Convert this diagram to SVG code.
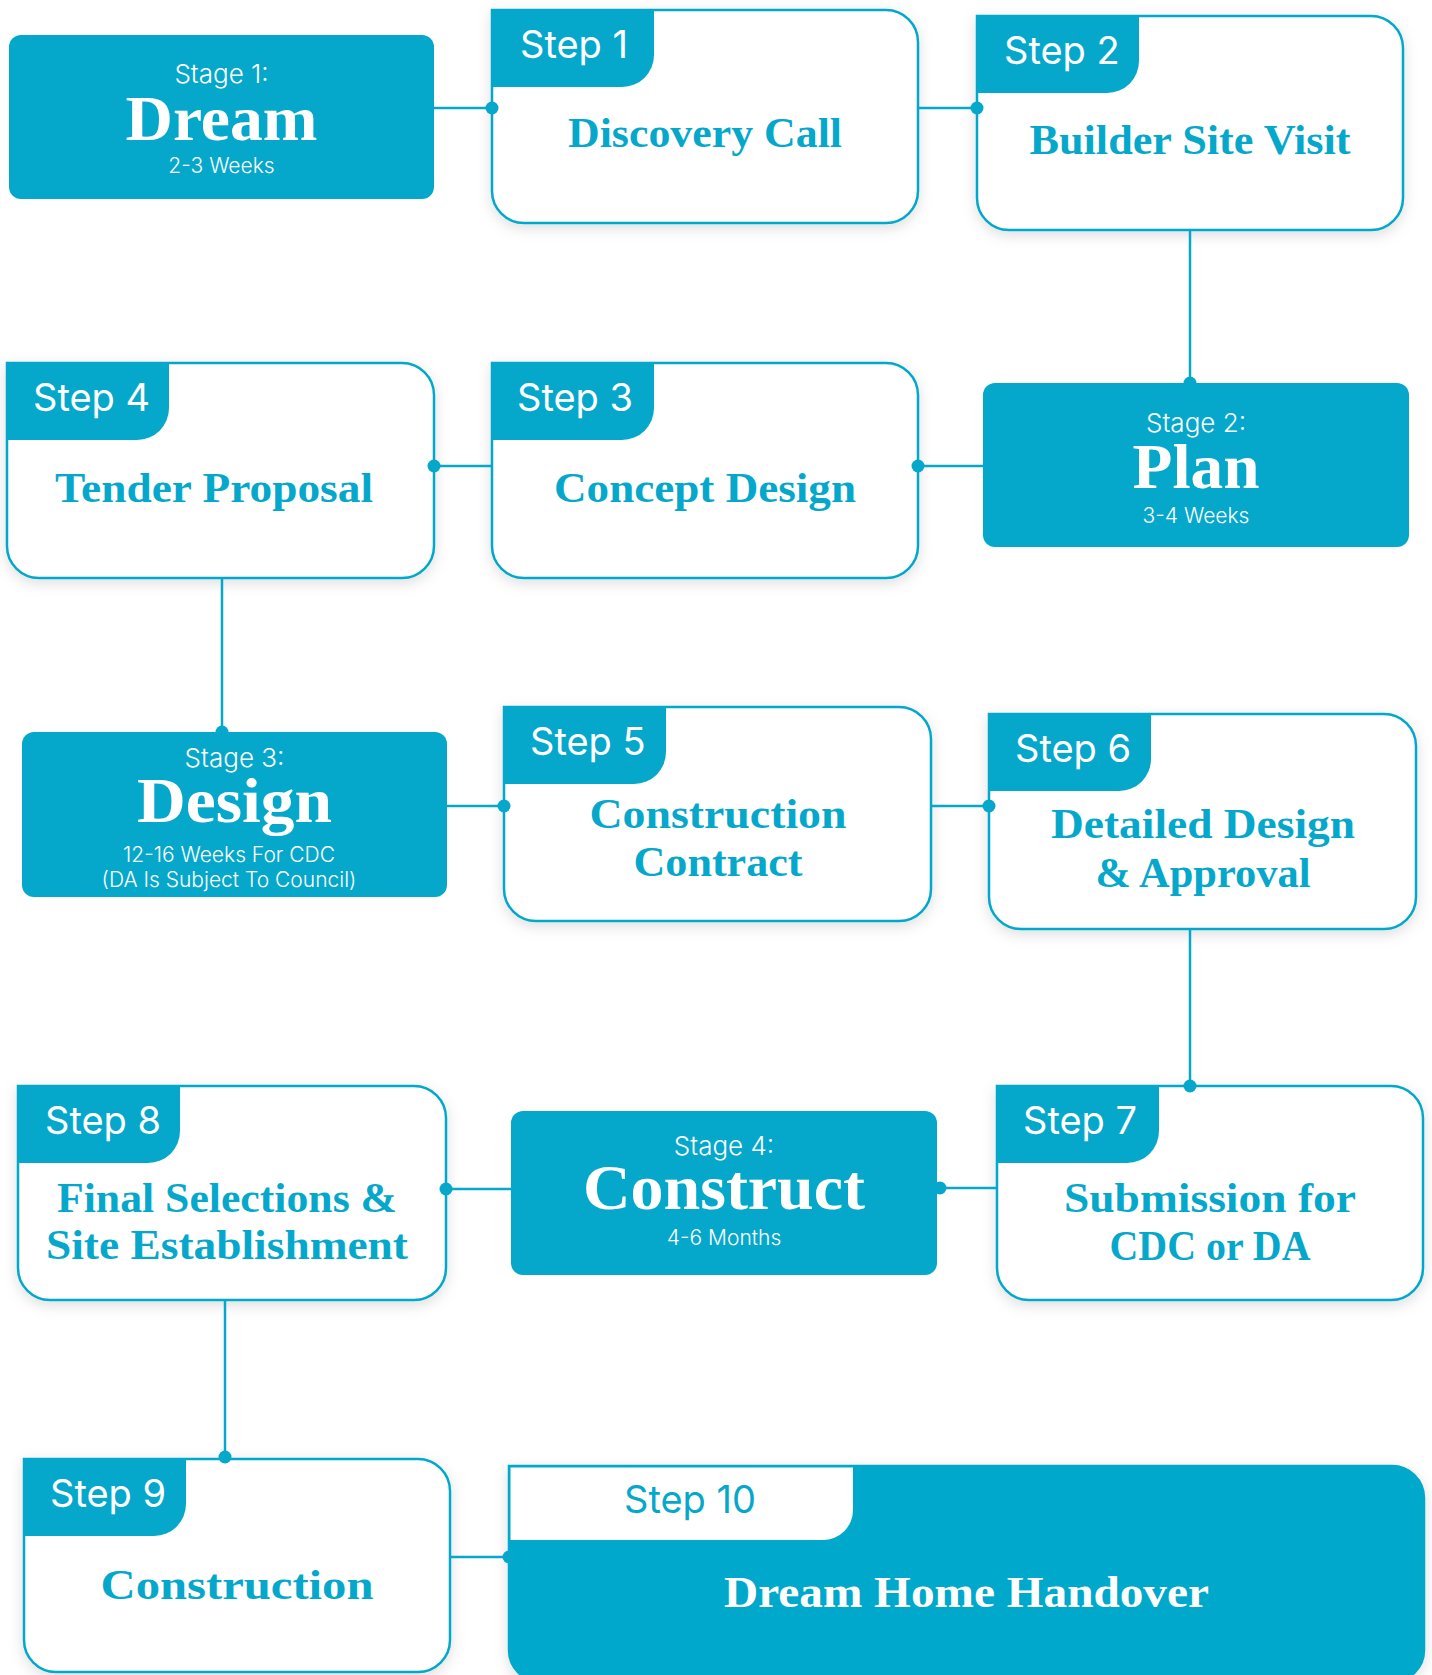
<svg xmlns="http://www.w3.org/2000/svg" width="1432" height="1675" viewBox="0 0 1432 1675">
<defs>
<style>
.box{fill:#fff;stroke:#05A8CB;stroke-width:2.5;filter:url(#sh)}
.tab{fill:#05A8CB}
.stage{fill:#05A8CB}
.stp{font-family:Inter,"Liberation Sans",sans-serif;font-size:38px;fill:#fff}
.ttl{font-family:"Liberation Serif",serif;font-weight:bold;font-size:43px;fill:#05A8CB;text-anchor:middle}
.slab{font-family:Inter,"Liberation Sans",sans-serif;font-weight:300;font-size:26px;fill:#fff;text-anchor:middle}
.sbig{font-family:"Liberation Serif",serif;font-weight:bold;font-size:64px;fill:#fff;text-anchor:middle}
.ssub{font-family:Inter,"Liberation Sans",sans-serif;font-weight:300;font-size:21px;fill:#fff;text-anchor:middle}
.ln{stroke:#05A8CB;stroke-width:2.5;fill:none}
.dot{fill:#05A8CB}
</style>
<filter id="sh" x="-10%" y="-10%" width="120%" height="130%">
<feDropShadow dx="0" dy="4" stdDeviation="7" flood-color="#000" flood-opacity="0.13"/>
</filter>
</defs>
<rect width="1432" height="1675" fill="#fff"/>

<g id="stage1">
<rect class="stage" x="9" y="35" width="425" height="164" rx="12"/>
<text class="slab" x="221.5" y="83">Stage 1:</text>
<text class="sbig" x="221.5" y="140" textLength="192" lengthAdjust="spacingAndGlyphs">Dream</text>
<text class="ssub" x="221.5" y="173">2-3 Weeks</text>
</g>

<g id="step1">
<path class="box" d="M492,10 H886 A32,32 0 0 1 918,42 V191 A32,32 0 0 1 886,223 H524 A32,32 0 0 1 492,191 Z"/>
<path class="tab" d="M491,9 H654 V55 A32,32 0 0 1 622,87 H491 Z"/>
<text class="stp" x="520" y="58">Step 1</text>
<text class="ttl" x="705" y="147" textLength="274" lengthAdjust="spacingAndGlyphs">Discovery Call</text>
</g>

<g id="step2">
<path class="box" d="M977,16 H1371 A32,32 0 0 1 1403,48 V198 A32,32 0 0 1 1371,230 H1009 A32,32 0 0 1 977,198 Z"/>
<path class="tab" d="M976,15 H1139 V61 A32,32 0 0 1 1107,93 H976 Z"/>
<text class="stp" x="1004" y="64">Step 2</text>
<text class="ttl" x="1190" y="154" textLength="321" lengthAdjust="spacingAndGlyphs">Builder Site Visit</text>
</g>

<g id="stage2">
<rect class="stage" x="983" y="383" width="426" height="164" rx="12"/>
<text class="slab" x="1196" y="432">Stage 2:</text>
<text class="sbig" x="1196" y="488" textLength="127" lengthAdjust="spacingAndGlyphs">Plan</text>
<text class="ssub" x="1196" y="523">3-4 Weeks</text>
</g>

<g id="step3">
<path class="box" d="M492,363 H886 A32,32 0 0 1 918,395 V546 A32,32 0 0 1 886,578 H524 A32,32 0 0 1 492,546 Z"/>
<path class="tab" d="M491,362 H654 V408 A32,32 0 0 1 622,440 H491 Z"/>
<text class="stp" x="517" y="411">Step 3</text>
<text class="ttl" x="705" y="502" textLength="302" lengthAdjust="spacingAndGlyphs">Concept Design</text>
</g>

<g id="step4">
<path class="box" d="M7,363 H402 A32,32 0 0 1 434,395 V546 A32,32 0 0 1 402,578 H39 A32,32 0 0 1 7,546 Z"/>
<path class="tab" d="M6,362 H169 V408 A32,32 0 0 1 137,440 H6 Z"/>
<text class="stp" x="33" y="411">Step 4</text>
<text class="ttl" x="214" y="502" textLength="318" lengthAdjust="spacingAndGlyphs">Tender Proposal</text>
</g>

<g id="stage3">
<rect class="stage" x="22" y="732" width="425" height="165" rx="12"/>
<text class="slab" x="234.5" y="767">Stage 3:</text>
<text class="sbig" x="234.5" y="822" textLength="195" lengthAdjust="spacingAndGlyphs">Design</text>
<text class="ssub" x="229" y="862">12-16 Weeks For CDC</text>
<text class="ssub" x="229" y="887">(DA Is Subject To Council)</text>
</g>

<g id="step5">
<path class="box" d="M504,707 H899 A32,32 0 0 1 931,739 V889 A32,32 0 0 1 899,921 H536 A32,32 0 0 1 504,889 Z"/>
<path class="tab" d="M503,706 H666 V752 A32,32 0 0 1 634,784 H503 Z"/>
<text class="stp" x="530" y="755">Step 5</text>
<text class="ttl" x="718" y="828" textLength="257" lengthAdjust="spacingAndGlyphs">Construction</text>
<text class="ttl" x="718" y="876" textLength="169" lengthAdjust="spacingAndGlyphs">Contract</text>
</g>

<g id="step6">
<path class="box" d="M989,714 H1384 A32,32 0 0 1 1416,746 V897 A32,32 0 0 1 1384,929 H1021 A32,32 0 0 1 989,897 Z"/>
<path class="tab" d="M988,713 H1151 V759 A32,32 0 0 1 1119,791 H988 Z"/>
<text class="stp" x="1015" y="762">Step 6</text>
<text class="ttl" x="1203" y="838" textLength="304" lengthAdjust="spacingAndGlyphs">Detailed Design</text>
<text class="ttl" x="1203" y="887" textLength="215" lengthAdjust="spacingAndGlyphs">&amp; Approval</text>
</g>

<g id="step7">
<path class="box" d="M997,1086 H1391 A32,32 0 0 1 1423,1118 V1268 A32,32 0 0 1 1391,1300 H1029 A32,32 0 0 1 997,1268 Z"/>
<path class="tab" d="M996,1085 H1159 V1131 A32,32 0 0 1 1127,1163 H996 Z"/>
<text class="stp" x="1023" y="1134">Step 7</text>
<text class="ttl" x="1210" y="1212" textLength="292" lengthAdjust="spacingAndGlyphs">Submission for</text>
<text class="ttl" x="1210" y="1260" textLength="201" lengthAdjust="spacingAndGlyphs">CDC or DA</text>
</g>

<g id="stage4">
<rect class="stage" x="511" y="1111" width="426" height="164" rx="12"/>
<text class="slab" x="724" y="1155">Stage 4:</text>
<text class="sbig" x="724" y="1209" textLength="282" lengthAdjust="spacingAndGlyphs">Construct</text>
<text class="ssub" x="724" y="1245">4-6 Months</text>
</g>

<g id="step8">
<path class="box" d="M18,1086 H414 A32,32 0 0 1 446,1118 V1268 A32,32 0 0 1 414,1300 H50 A32,32 0 0 1 18,1268 Z"/>
<path class="tab" d="M17,1085 H180 V1131 A32,32 0 0 1 148,1163 H17 Z"/>
<text class="stp" x="45" y="1134">Step 8</text>
<text class="ttl" x="227" y="1212" textLength="340" lengthAdjust="spacingAndGlyphs">Final Selections &amp;</text>
<text class="ttl" x="227" y="1259" textLength="362" lengthAdjust="spacingAndGlyphs">Site Establishment</text>
</g>

<g id="step9">
<path class="box" d="M24,1459 H418 A32,32 0 0 1 450,1491 V1640 A32,32 0 0 1 418,1672 H56 A32,32 0 0 1 24,1640 Z"/>
<path class="tab" d="M23,1458 H186 V1504 A32,32 0 0 1 154,1536 H23 Z"/>
<text class="stp" x="50" y="1507">Step 9</text>
<text class="ttl" x="237" y="1599" font-size="46" textLength="273" lengthAdjust="spacingAndGlyphs">Construction</text>
</g>

<g id="step10">
<path d="M509,1466 H1392 A32,32 0 0 1 1424,1498 V1650 A32,32 0 0 1 1392,1682 H541 A32,32 0 0 1 509,1650 Z" fill="#05A8CB" stroke="#05A8CB" stroke-width="2.5" filter="url(#sh)"/>
<path d="M510.5,1467.5 H853 V1510 A30,30 0 0 1 823,1540 H510.5 Z" fill="#fff"/>
<text x="690" y="1513" font-family="Inter,'Liberation Sans',sans-serif" font-size="38" fill="#05A8CB" text-anchor="middle">Step 10</text>
<text x="966.5" y="1607" font-family="'Liberation Serif',serif" font-weight="bold" font-size="45" fill="#fff" text-anchor="middle" textLength="485" lengthAdjust="spacingAndGlyphs">Dream Home Handover</text>
</g>

<g id="connectors">
<path class="ln" d="M434,108 H492"/>
<circle class="dot" cx="492" cy="108" r="6.5"/>
<path class="ln" d="M918,108 H977"/>
<circle class="dot" cx="977" cy="108" r="6.5"/>
<path class="ln" d="M1190,230 V383"/>
<circle class="dot" cx="1190" cy="383" r="6.5"/>
<path class="ln" d="M918,466 H983"/>
<circle class="dot" cx="918" cy="466" r="6.5"/>
<path class="ln" d="M434,466 H492"/>
<circle class="dot" cx="434" cy="466" r="6.5"/>
<path class="ln" d="M222,578 V732"/>
<circle class="dot" cx="222" cy="732" r="6.5"/>
<path class="ln" d="M447,806 H504"/>
<circle class="dot" cx="504" cy="806" r="6.5"/>
<path class="ln" d="M931,806 H989"/>
<circle class="dot" cx="989" cy="806" r="6.5"/>
<path class="ln" d="M1190,929 V1086"/>
<circle class="dot" cx="1190" cy="1086" r="6.5"/>
<path class="ln" d="M937,1188 H997"/>
<circle class="dot" cx="940" cy="1188" r="6.5"/>
<path class="ln" d="M446,1189 H511"/>
<circle class="dot" cx="446" cy="1189" r="6.5"/>
<path class="ln" d="M225,1300 V1459"/>
<circle class="dot" cx="225" cy="1457" r="6.5"/>
<path class="ln" d="M450,1557 H509"/>
<circle class="dot" cx="509" cy="1557" r="6.5"/>
</g>
</svg>
